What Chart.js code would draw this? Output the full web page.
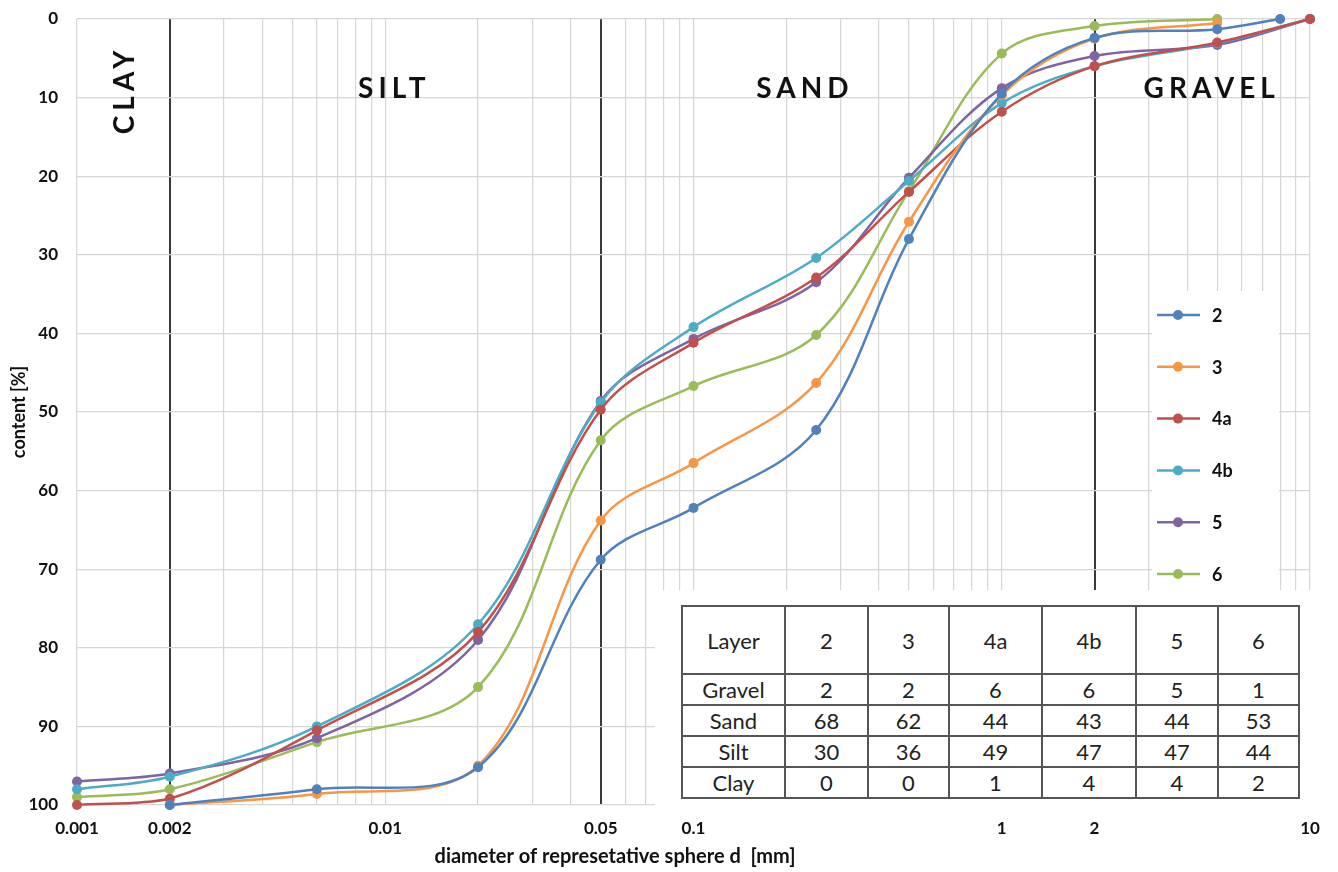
<!DOCTYPE html>
<html>
<head>
<meta charset="utf-8">
<script src="https://cdn.jsdelivr.net/npm/chart.js@4/dist/chart.umd.min.js"></script>
<style>
  body { margin: 0; background: #fff; }
  #wrap { position: relative; width: 1338px; height: 872px; }
  #tableBox { position: absolute; left: 655px; top: 590px; width: 657px; height: 218px; background: #fff; }
  #soilTable { position: absolute; left: 26px; top: 15px; border-collapse: collapse; table-layout: fixed; font-family: Lato, sans-serif; font-size: 22px; color: #222; }
  #soilTable td { border: 2px solid #555; text-align: center; padding: 0; height: 29px; line-height: 29px; }
  #soilTable tr.head td { height: 66px; }
</style>
</head>
<body>
<div id="wrap">
  <canvas id="gradingChart"></canvas>
  <div id="tableBox"><table id="soilTable"></table></div>
</div>
<script>
// grain sizes [mm] where samples were taken
const sizes = [0.001, 0.002, 0.006, 0.02, 0.05, 0.1, 0.25, 0.5, 1, 2, 5, 8, 10];

// content [%] per layer, null = no measurement
const layer2  = [null, 100, 98, 95.2, 68.8, 62.2, 52.3, 28, 9.5, 2.4, 1.3, 0, null];
const layer3  = [null, 100, 98.6, 95, 63.8, 56.5, 46.3, 25.8, 9.7, 2.5, 0.5, null, null];
const layer4a = [100, 99.2, 90.5, 78, 49.7, 41.2, 32.9, 22, 11.8, 6, 3, null, 0];
const layer4b = [98, 96.4, 90, 77, 48.8, 39.2, 30.4, 20.6, 10.7, 6, 3.1, null, 0];
const layer5  = [97, 96, 91.5, 79, 48.6, 40.7, 33.5, 20.2, 8.8, 4.7, 3.3, null, 0];
const layer6  = [99, 98, 92, 85, 53.6, 46.7, 40.2, 21.9, 4.4, 0.9, 0, null, null];

const layerNames = ['2', '3', '4a', '4b', '5', '6'];
const layerColors = ['#4F81BD', '#F79646', '#C0504D', '#4BACC6', '#8064A2', '#9BBB59'];

// x axis labels shown, and the class boundaries drawn dark
const xTickLabels = ['0.001', '0.002', '0.01', '0.05', '0.1', '1', '2', '10'];
const classBounds = [0.002, 0.05, 2];
const classNames = ['CLAY', 'SILT', 'SAND', 'GRAVEL'];

// table of fractions
const tableRows = ['Gravel', 'Sand', 'Silt', 'Clay'];
const gravelPct = [2, 2, 6, 6, 5, 1];
const sandPct   = [68, 62, 44, 43, 44, 53];
const siltPct   = [30, 36, 49, 47, 47, 44];
const clayPct   = [0, 0, 1, 4, 4, 2];

const FONT = 'Lato, "Open Sans", sans-serif';

// build the table
const tbl = document.getElementById('soilTable');
const colWidths = [101, 81, 79, 91, 92, 80, 79];
let html = '<tr class="head"><td style="width:' + colWidths[0] + 'px">Layer</td>';
layerNames.forEach((n, i) => { html += '<td style="width:' + colWidths[i + 1] + 'px">' + n + '</td>'; });
html += '</tr>';
[gravelPct, sandPct, siltPct, clayPct].forEach((row, r) => {
    html += '<tr><td>' + tableRows[r] + '</td>';
    row.forEach(v => { html += '<td>' + v + '</td>'; });
    html += '</tr>';
});
tbl.innerHTML = html;

function toPoints(vals) {
    return sizes.map((s, i) => ({ x: s, y: vals[i] })).filter(p => p.y !== null);
}

const allLayers = [layer2, layer3, layer4a, layer4b, layer5, layer6];
const datasets = allLayers.map((vals, i) => ({
    label: layerNames[i],
    data: toPoints(vals),
    borderColor: layerColors[i],
    backgroundColor: layerColors[i],
    borderWidth: 2.5,
    pointRadius: 5,
    pointBorderWidth: 0,
    tension: 0.35,
    clip: 8
}));

// grid positions 1..9 per decade
const gridValues = [];
for (let e = -3; e <= 0; e++) {
    for (let m = 1; m <= 9; m++) gridValues.push(Number((m * Math.pow(10, e)).toPrecision(1)));
}
gridValues.push(10);

function sameVal(a, b) { return Math.abs(Math.log10(a) - Math.log10(b)) < 1e-6; }

const overlayPlugin = {
    id: 'overlay',
    beforeDatasetsDraw(chart) {
        const ctx = chart.ctx;
        const x = chart.scales.x, y = chart.scales.y;
        ctx.save();
        // white legend background
        ctx.fillStyle = '#fff';
        ctx.fillRect(1152, 291, 127, 300);
        // class labels
        ctx.fillStyle = '#111';
        ctx.font = 'bold 28px ' + FONT;
        ctx.letterSpacing = '5px';
        ctx.textAlign = 'center';
        ctx.textBaseline = 'middle';
        ctx.save();
        ctx.translate(x.getPixelForValue(0.00143), y.getPixelForValue(9.4));
        ctx.rotate(-Math.PI / 2);
        ctx.fillText(classNames[0], 3, 0);
        ctx.restore();
        ctx.fillText(classNames[1], x.getPixelForValue(0.0107), y.getPixelForValue(8.9));
        ctx.fillText(classNames[2], x.getPixelForValue(0.23), y.getPixelForValue(8.9));
        ctx.fillText(classNames[3], x.getPixelForValue(4.8), y.getPixelForValue(8.9));
        ctx.restore();
    },
    afterDatasetsDraw(chart) {
        const ctx = chart.ctx;
        ctx.save();
        // legend
        chart.data.datasets.forEach((ds, i) => {
            const cy = 315 + i * 51.8;
            ctx.strokeStyle = ds.borderColor;
            ctx.lineWidth = 2.5;
            ctx.beginPath();
            ctx.moveTo(1157, cy);
            ctx.lineTo(1200, cy);
            ctx.stroke();
            ctx.fillStyle = ds.borderColor;
            ctx.beginPath();
            ctx.arc(1178, cy, 5, 0, Math.PI * 2);
            ctx.fill();
            ctx.fillStyle = '#111';
            ctx.font = 'bold 18px ' + FONT;
            ctx.textAlign = 'left';
            ctx.textBaseline = 'middle';
            ctx.fillText(ds.label, 1212, cy + 1);
        });
        // x axis title
        ctx.font = 'bold 20px ' + FONT;
        ctx.textAlign = 'center';
        ctx.textBaseline = 'middle';
        ctx.fillText('diameter of represetative sphere d  [mm]', 615, 857);
        ctx.restore();
    }
};

const chart = new Chart(document.getElementById('gradingChart'), {
    type: 'line',
    data: { datasets },
    plugins: [overlayPlugin],
    options: {
        responsive: true,
        maintainAspectRatio: false,
        animation: false,
        layout: { autoPadding: false, padding: { left: 4, right: 28, top: 19, bottom: 0 } },
        plugins: { legend: { display: false }, tooltip: { enabled: false } },
        scales: {
            x: {
                type: 'logarithmic',
                min: 0.001,
                max: 10,
                afterBuildTicks: (scale) => { scale.ticks = gridValues.map(v => ({ value: v })); },
                afterFit: (scale) => { scale.height = 67; },
                border: { display: false },
                grid: {
                    drawTicks: false,
                    color: (c) => classBounds.some(b => sameVal(b, c.tick.value)) ? '#3a3a3a' : '#d6d6d6',
                    lineWidth: (c) => classBounds.some(b => sameVal(b, c.tick.value)) ? 2 : 1.2
                },
                ticks: {
                    autoSkip: false,
                    maxRotation: 0,
                    padding: 13,
                    color: '#111',
                    font: { family: FONT, size: 17, weight: 'bold' },
                    callback: (v) => {
                        const hit = xTickLabels.find(t => sameVal(parseFloat(t), v));
                        return hit || '';
                    }
                }
            },
            y: {
                reverse: true,
                min: 0,
                max: 100,
                afterFit: (scale) => {
                    scale.width = 73;
                    scale.paddingTop = 9;
                    scale.paddingBottom = 9;
                },
                border: { display: false },
                grid: { drawTicks: false, color: '#d6d6d6', lineWidth: 1.2 },
                ticks: {
                    stepSize: 10,
                    padding: 19,
                    color: '#111',
                    font: { family: FONT, size: 17, weight: 'bold' }
                },
                title: {
                    display: true,
                    text: 'content [%]',
                    color: '#111',
                    font: { family: FONT, size: 18, weight: 'bold' }
                }
            }
        }
    }
});
</script>
</body>
</html>
